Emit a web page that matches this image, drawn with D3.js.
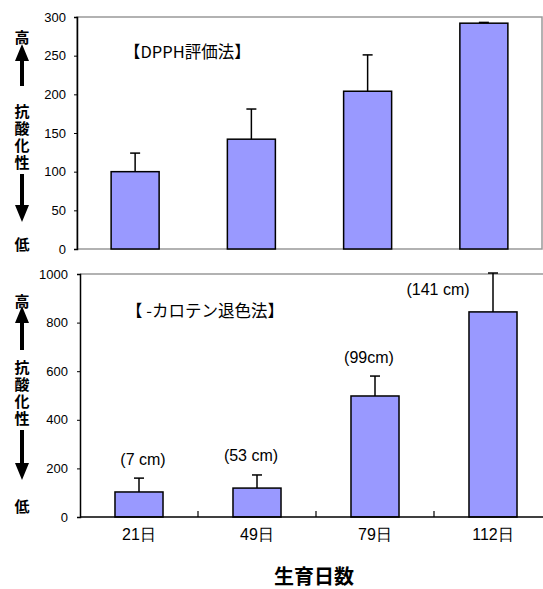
<!DOCTYPE html>
<html><head><meta charset="utf-8">
<script src="https://cdn.jsdelivr.net/npm/d3@7"></script>
<style>body{margin:0;background:#fff}svg{display:block}</style>
</head><body>
<script>
const categories = ["21日","49日","79日","112日"];
const dpphValues = [100, 142, 204, 292];
const dpphErrors = [24, 39, 47, 1];
const dpphTicks = [0,50,100,150,200,250,300];
const caroteneValues = [103, 119, 498, 844];
const caroteneErrors = [57, 54, 82, 160];
const caroteneTicks = [0,200,400,600,800,1000];
const heightLabels = ["(7 cm)","(53 cm)","(99cm)","(141 cm)"];
const title1 = "【DPPH評価法】";
const title2 = "【 -カロテン退色法】";
const yLabelText = "抗酸化性";
const xTitle = "生育日数";

const W = 543, H = 589;
const latin = "'Liberation Sans', Arial, sans-serif";
const cjk = "'Noto Sans CJK JP', sans-serif";
const barFill = "#9999ff";

const svg = d3.select("body").append("svg").attr("width", W).attr("height", H);
svg.append("defs").append("clipPath").attr("id","clipTop")
  .append("rect").attr("x",0).attr("y",0).attr("width",W).attr("height",254);

function drawSideLabel(g, x, yHigh, yArrowUp, label, yMid, yArrowDown, yLow){
  const t = (s,y)=>g.append("text").attr("x",x).attr("y",y).attr("text-anchor","middle")
    .attr("dominant-baseline","central").attr("font-family",cjk).attr("font-weight","bold")
    .attr("font-size",15).attr("fill","#000").text(s);
  t("高", yHigh);
  const [a0,a1] = yArrowUp;
  g.append("path").attr("d",`M${x},${a0} L${x+7},${a0+17} L${x+2},${a0+17} L${x+2},${a1} L${x-2},${a1} L${x-2},${a0+17} L${x-7},${a0+17} Z`).attr("fill","#000");
  g.append("text").attr("x",x).attr("y",yMid).attr("text-anchor","middle")
    .style("writing-mode","vertical-rl").style("text-orientation","upright")
    .attr("letter-spacing",2).attr("font-family",cjk).attr("font-weight","bold")
    .attr("font-size",15).attr("fill","#000").text(label);
  const [b0,b1] = yArrowDown;
  g.append("path").attr("d",`M${x},${b1} L${x+7},${b1-17} L${x+2},${b1-17} L${x+2},${b0} L${x-2},${b0} L${x-2},${b1-17} L${x-7},${b1-17} Z`).attr("fill","#000");
  t("低", yLow);
}

// ---------- Top chart ----------
{
  const g = svg.append("g").attr("clip-path","url(#clipTop)");
  const x = d3.scaleBand().domain(categories).range([77,542]).paddingInner(0.587).paddingOuter(0.2935);
  const y = d3.scaleLinear().domain([0,300]).range([249,17]);
  g.append("rect").attr("x",77).attr("y",17).attr("width",465).attr("height",232)
    .attr("fill","none").attr("stroke","#999").attr("stroke-width",1.5);
  g.selectAll(".bar").data(dpphValues).join("rect")
    .attr("x",(d,i)=>x(categories[i])).attr("width",x.bandwidth())
    .attr("y",d=>y(d)).attr("height",d=>y(0)-y(d))
    .attr("fill",barFill).attr("stroke","#000").attr("stroke-width",1.5);
  dpphValues.forEach((v,i)=>{
    const cx = x(categories[i]) + x.bandwidth()/2;
    g.append("line").attr("x1",cx).attr("x2",cx).attr("y1",y(v)).attr("y2",y(v+dpphErrors[i])).attr("stroke","#000").attr("stroke-width",1.5);
    g.append("line").attr("x1",cx-5).attr("x2",cx+5).attr("y1",y(v+dpphErrors[i])).attr("y2",y(v+dpphErrors[i])).attr("stroke","#000").attr("stroke-width",1.5);
  });
  const ax = g.append("g").attr("transform","translate(77,0)")
    .call(d3.axisLeft(y).tickValues(dpphTicks).tickSize(3).tickPadding(8).tickFormat(d3.format("d")));
  ax.select(".domain").attr("stroke","#000").attr("stroke-width",1.5);
  ax.selectAll(".tick line").attr("stroke","#000");
  ax.selectAll("text").attr("font-family",latin).attr("font-size",13).attr("fill","#000");
  g.append("text").attr("x",124).attr("y",51).attr("dominant-baseline","central")
    .attr("font-family",cjk).attr("font-size",16.5).attr("fill","#000").text(title1);
  drawSideLabel(g, 22, 36, [44,86], yLabelText, 138, [174,222], 243);
}

// ---------- Bottom chart ----------
{
  const g = svg.append("g");
  const x = d3.scaleBand().domain(categories).range([80,552]).paddingInner(0.593).paddingOuter(0.2965);
  const y = d3.scaleLinear().domain([0,1000]).range([517,274]);
  g.append("line").attr("x1",80).attr("x2",W).attr("y1",274).attr("y2",274).attr("stroke","#999").attr("stroke-width",1.5);
  g.selectAll(".bar").data(caroteneValues).join("rect")
    .attr("x",(d,i)=>x(categories[i])).attr("width",x.bandwidth())
    .attr("y",d=>y(d)).attr("height",d=>y(0)-y(d))
    .attr("fill",barFill).attr("stroke","#000").attr("stroke-width",1.5);
  caroteneValues.forEach((v,i)=>{
    const cx = x(categories[i]) + x.bandwidth()/2;
    g.append("line").attr("x1",cx).attr("x2",cx).attr("y1",y(v)).attr("y2",y(v+caroteneErrors[i])).attr("stroke","#000").attr("stroke-width",1.5);
    g.append("line").attr("x1",cx-5).attr("x2",cx+5).attr("y1",y(v+caroteneErrors[i])).attr("y2",y(v+caroteneErrors[i])).attr("stroke","#000").attr("stroke-width",1.5);
  });
  const labelDx = [4,-6,-6,-55];
  caroteneValues.forEach((v,i)=>{
    const cx = x(categories[i]) + x.bandwidth()/2;
    const top = i===3 ? y(v) - 22 : y(v+caroteneErrors[i]) - 19;
    g.append("text").attr("x",cx+labelDx[i]).attr("y",top).attr("text-anchor","middle")
      .attr("dominant-baseline","central").attr("font-family",latin).attr("font-size",16)
      .attr("fill","#000").text(heightLabels[i]);
  });
  const ax = g.append("g").attr("transform","translate(80,0)")
    .call(d3.axisLeft(y).tickValues(caroteneTicks).tickSize(3).tickPadding(9).tickFormat(d3.format("d")));
  ax.select(".domain").attr("stroke","#000").attr("stroke-width",1.5);
  ax.selectAll(".tick line").attr("stroke","#000");
  ax.selectAll("text").attr("font-family",latin).attr("font-size",13).attr("fill","#000");
  const xa = g.append("g").attr("transform","translate(0,517)")
    .call(d3.axisBottom(x).tickSize(0).tickPadding(12));
  xa.select(".domain").remove();
  g.append("line").attr("x1",80).attr("x2",W).attr("y1",517).attr("y2",517).attr("stroke","#000").attr("stroke-width",1.5);
  categories.slice(1).forEach(c=>{
    const bx = x(c) - x.step()*x.paddingInner()/2;
    g.append("line").attr("x1",bx).attr("x2",bx).attr("y1",517).attr("y2",511).attr("stroke","#000").attr("stroke-width",1.2);
  });
  xa.selectAll("text").attr("font-family",latin).attr("font-size",16).attr("fill","#000");
  g.append("text").attr("x",126).attr("y",310).attr("dominant-baseline","central")
    .attr("font-family",cjk).attr("font-size",16.5).attr("fill","#000").text(title2);
  drawSideLabel(g, 22, 300, [306,350], yLabelText, 394, [430,480], 505);
  g.append("text").attr("x",314).attr("y",575).attr("text-anchor","middle").attr("dominant-baseline","central")
    .attr("font-family",cjk).attr("font-weight","bold").attr("font-size",20).attr("fill","#000").text(xTitle);
}
</script>
</body></html>
